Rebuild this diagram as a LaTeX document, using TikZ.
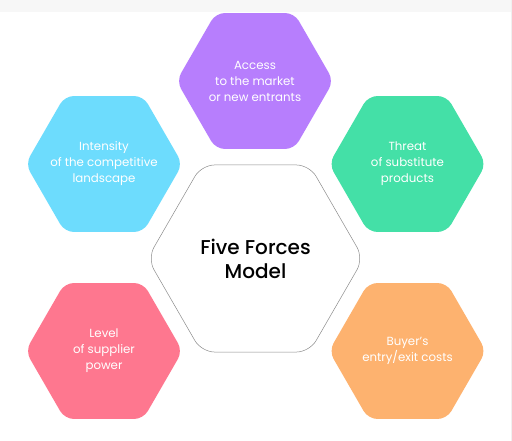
\documentclass[tikz,border=0pt]{standalone}
\usepackage{fontspec}
\setmainfont{Poppins}[BoldFont={Poppins Medium}]
\usepackage{xcolor}
\usetikzlibrary{shapes.geometric}

\definecolor{purplehex}{HTML}{B77EFD}
\definecolor{cyanhex}{HTML}{6DDCFD}
\definecolor{greenhex}{HTML}{44E0A7}
\definecolor{pinkhex}{HTML}{FE778F}
\definecolor{orangehex}{HTML}{FDB26F}

\begin{document}
\begin{tikzpicture}[
            x=1pt, y=-1pt,
            every node/.style={
            inner sep=0pt, outer sep=0pt, align=center, text centered}
        ]
        \tikzstyle {force_hex} = [regular polygon, regular polygon sides=6,
            minimum size=157pt, rounded corners=9pt, draw=none]
        \tikzstyle {force_text} = [text=white, font=\fontsize{11.8}{16}\selectfont]
        \tikzstyle {model_hex} = [regular polygon, regular polygon sides=6,
            minimum size=216pt, rounded corners=13pt, draw=black!45,
            line width=0.5pt, fill=white]
        \tikzstyle {model_text} = [text=black, font=\fontsize{20}{24}\selectfont\bfseries]

        % page and its faint edges
        \useasboundingbox (0,0) rectangle (512,441);
        \fill[white] (0,0) rectangle (512,441);
        \fill[black!3] (0,0) rectangle (512,12);
        \fill[black!6] (510.5,0) rectangle (512,441);

        \node [model_hex] (model) at (255.5,258.5) {};
        \node [model_text] (model_t) at (model) {Five Forces\\Model};

        \node [force_hex, fill=purplehex] (entrants) at (255,81) {};
        \node [force_hex, fill=cyanhex] (rivalry) at (104,164) {};
        \node [force_hex, fill=greenhex] (substitutes) at (407.5,164) {};
        \node [force_hex, fill=pinkhex] (suppliers) at (104,351) {};
        \node [force_hex, fill=orangehex] (buyers) at (407.5,351) {};

        \node [force_text] (entrants_t) at (entrants) {Access\\to the market\\or new entrants};
        \node [force_text] (rivalry_t) at (rivalry) {Intensity\\of the competitive\\landscape};
        \node [force_text] (substitutes_t) at (substitutes) {Threat\\of substitute\\products};
        \node [force_text] (suppliers_t) at (suppliers) {Level\\of supplier\\power};
        \node [force_text] (buyers_t) at (buyers) {Buyer's\\entry/exit costs};

        \end{tikzpicture}
\end{document}
